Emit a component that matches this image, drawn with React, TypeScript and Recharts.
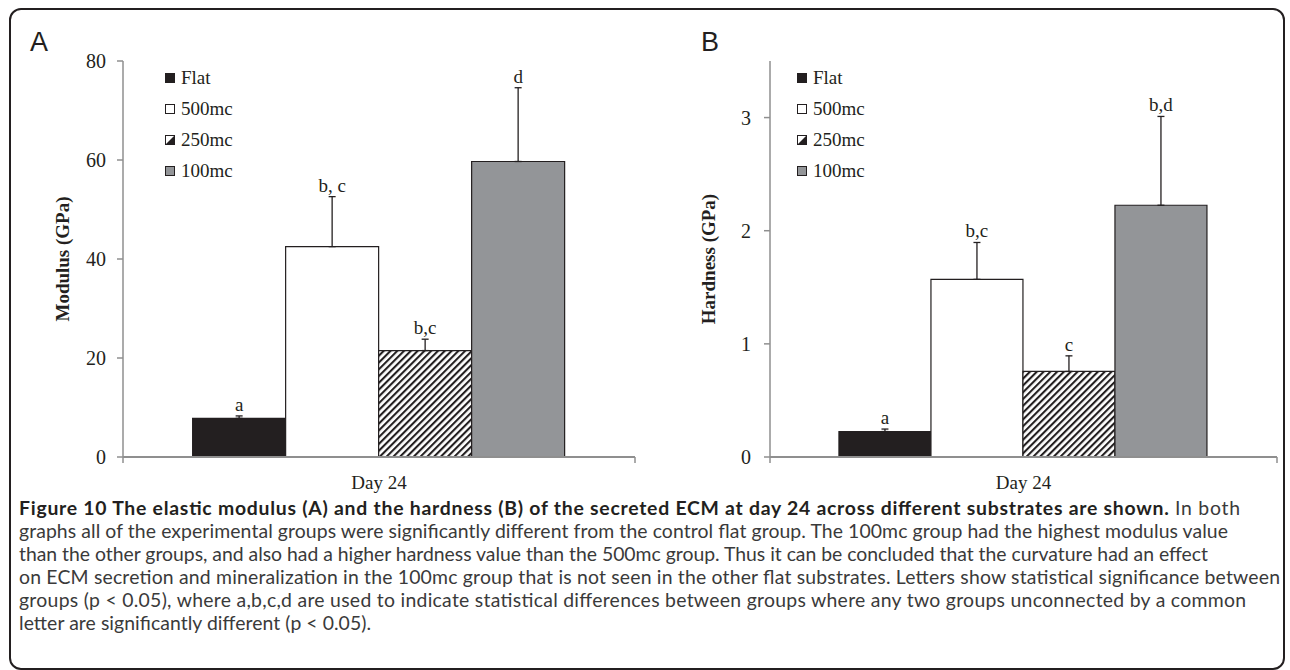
import React from 'react';
import { BarChart, Bar, XAxis, YAxis, ErrorBar, LabelList, Legend } from 'recharts';

const categories = ['Day 24'];
const groups = ['Flat', '500mc', '250mc', '100mc'];

const modulusMean = [7.8, 42.5, 21.5, 59.7];
const modulusErr = [0.5, 10.1, 2.3, 14.9];
const modulusLetters = ['a', 'b, c', 'b,c', 'd'];
const modulusTicks = [0, 20, 40, 60, 80];

const hardnessMean = [0.225, 1.57, 0.756, 2.225];
const hardnessErr = [0.022, 0.326, 0.138, 0.785];
const hardnessLetters = ['a', 'b,c', 'c', 'b,d'];
const hardnessTicks = [0, 1, 2, 3];

const captionBold =
  'Figure 10 The elastic modulus (A) and the hardness (B) of the secreted ECM at day 24 across different substrates are shown. ';
const captionLines = [
  'In both',
  'graphs all of the experimental groups were significantly different from the control flat group. The 100mc group had the highest modulus value',
  'than the other groups, and also had a higher hardness value than the 500mc group. Thus it can be concluded that the curvature had an effect',
  'on ECM secretion and mineralization in the 100mc group that is not seen in the other flat substrates. Letters show statistical significance between',
  'groups (p < 0.05), where a,b,c,d are used to indicate statistical differences between groups where any two groups unconnected by a common',
  'letter are significantly different (p < 0.05).',
];
const captionLineEnds = [1240, 1228, 1208, 1280, 1246, 371];
const captionBaselines = [515, 538, 561, 584, 607, 630];

const SERIF = '"Liberation Serif", "Times New Roman", serif';
const INK = '#231f20';
const AXIS = '#8f8f8f';
const GREY_BAR = '#939598';
const X_TICK_MARGIN = 13;
const CAPTION_LEFT = 19;

function buildRows(means: number[], errs: number[]) {
  return categories.map((day) => {
    const row: Record<string, unknown> = { day };
    groups.forEach((_, i) => {
      row[`s${i}`] = means[i];
      row[`e${i}`] = [0, errs[i]];
    });
    return row;
  });
}

const makeSigLabel = (text: string, err: number, mean: number) => (props: any) => {
  const vb = props.viewBox || {};
  const x = Number(vb.x ?? props.x);
  const y = Number(vb.y ?? props.y);
  const w = Number(vb.width ?? props.width);
  const h = Number(vb.height ?? props.height);
  const top = Math.min(y, y + h);
  const perUnit = Math.abs(h) / mean;
  const errTop = top - err * perUnit;
  return (
    <text x={x + w / 2} y={errTop - 5} textAnchor="middle" fontFamily={SERIF} fontSize={19} fill={INK}>
      {text}
    </text>
  );
};

const DayTick = (props: any) => {
  const { x, y, payload } = props;
  const half = Number(payload?.offset ?? 0);
  const axisY = y - X_TICK_MARGIN - 6;
  return (
    <g>
      {half > 0 && (
        <>
          <line x1={x - half} x2={x - half} y1={axisY} y2={axisY + 6} stroke={AXIS} strokeWidth={1.5} />
          <line x1={x + half} x2={x + half} y1={axisY} y2={axisY + 6} stroke={AXIS} strokeWidth={1.5} />
        </>
      )}
      <text x={x} y={y} dy="0.71em" textAnchor="middle" fontFamily={SERIF} fontSize={19} fill={INK}>
        {payload.value}
      </text>
    </g>
  );
};

function Swatch({ index }: { index: number }) {
  return (
    <svg width={10} height={10} style={{ display: 'block' }}>
      {index === 0 && <rect x={0.5} y={0.5} width={9} height={9} fill={INK} stroke={INK} />}
      {index === 1 && <rect x={0.5} y={0.5} width={9} height={9} fill="#fff" stroke={INK} />}
      {index === 2 && (
        <>
          <rect x={0.5} y={0.5} width={9} height={9} fill="#fff" stroke={INK} />
          <polygon points="9.5,0.5 9.5,9.5 0.5,9.5" fill={INK} />
        </>
      )}
      {index === 3 && <rect x={0.5} y={0.5} width={9} height={9} fill={GREY_BAR} stroke={INK} />}
    </svg>
  );
}

function LegendList() {
  return (
    <div>
      {groups.map((g, i) => (
        <div key={g} style={{ display: 'flex', alignItems: 'center', height: 31 }}>
          <Swatch index={i} />
          <span style={{ marginLeft: 6, fontFamily: SERIF, fontSize: 19, color: INK }}>{g}</span>
        </div>
      ))}
    </div>
  );
}

type PanelProps = {
  id: string;
  yLabel: string;
  means: number[];
  errs: number[];
  letters: string[];
  ticks: number[];
  yMax: number;
  left: number;
  width: number;
  yAxisWidth: number;
  rightMargin: number;
  labelOffset: number;
  tickMargin: number;
  legendLeft: number;
};

function Panel(p: PanelProps) {
  const rows = buildRows(p.means, p.errs);
  const fills = [INK, '#ffffff', `url(#hatch-${p.id})`, GREY_BAR];
  return (
    <div style={{ position: 'absolute', left: p.left, top: 0 }}>
      <BarChart
        width={p.width}
        height={500}
        data={rows}
        margin={{ top: 61, right: p.rightMargin, bottom: 0, left: 0 }}
        barCategoryGap="13.6%"
        barGap={0}
      >
        <defs>
          <pattern
            id={`hatch-${p.id}`}
            patternUnits="userSpaceOnUse"
            width={4.8}
            height={4.8}
            patternTransform="rotate(45)"
          >
            <rect x={0} y={0} width={4.8} height={4.8} fill="#fff" />
            <rect x={0} y={0} width={2.1} height={4.8} fill={INK} />
          </pattern>
        </defs>
        <XAxis
          dataKey="day"
          height={43}
          axisLine={{ stroke: AXIS, strokeWidth: 2 }}
          tickLine={false}
          tickSize={6}
          tickMargin={X_TICK_MARGIN}
          tick={<DayTick />}
        />
        <YAxis
          type="number"
          domain={[0, p.yMax]}
          ticks={p.ticks}
          interval={0}
          width={p.yAxisWidth}
          axisLine={{ stroke: AXIS, strokeWidth: 1.5 }}
          tickLine={{ stroke: AXIS, strokeWidth: 1.5 }}
          tickSize={6}
          tickMargin={p.tickMargin}
          tick={{ fill: INK, fontSize: 20, fontFamily: SERIF }}
          label={{
            value: p.yLabel,
            angle: -90,
            position: 'insideLeft',
            offset: p.labelOffset,
            style: { textAnchor: 'middle', fontFamily: SERIF, fontSize: 19, fontWeight: 'bold', fill: INK },
          }}
        />
        <Legend
          layout="vertical"
          align="center"
          verticalAlign="middle"
          wrapperStyle={{ left: p.legendLeft, top: 62, width: 'auto', height: 'auto' }}
          content={() => <LegendList />}
        />
        {groups.map((g, i) => (
          <Bar
            key={g}
            dataKey={`s${i}`}
            name={g}
            fill={fills[i]}
            stroke={INK}
            strokeWidth={1.2}
            isAnimationActive={false}
          >
            <ErrorBar dataKey={`e${i}`} width={3.5} stroke={INK} strokeWidth={1.3} direction="y" />
            <LabelList dataKey={`s${i}`} content={makeSigLabel(p.letters[i], p.errs[i], p.means[i])} />
          </Bar>
        ))}
      </BarChart>
    </div>
  );
}

export default function App() {
  return (
    <div style={{ position: 'absolute', left: 0, top: 0, width: 1290, height: 670, background: '#fff', overflow: 'hidden' }}>
      <div
        style={{
          position: 'absolute',
          left: 9,
          top: 8,
          width: 1276,
          height: 662,
          border: `2px solid ${INK}`,
          borderRadius: 12,
          boxSizing: 'border-box',
        }}
      />
      <Panel
        id="a"
        yLabel="Modulus (GPa)"
        means={modulusMean}
        errs={modulusErr}
        letters={modulusLetters}
        ticks={modulusTicks}
        yMax={80}
        left={0}
        width={700}
        yAxisWidth={123}
        rightMargin={65}
        labelOffset={62}
        tickMargin={11}
        legendLeft={165}
      />
      <Panel
        id="b"
        yLabel="Hardness (GPa)"
        means={hardnessMean}
        errs={hardnessErr}
        letters={hardnessLetters}
        ticks={hardnessTicks}
        yMax={3.5}
        left={640}
        width={645}
        yAxisWidth={130}
        rightMargin={8}
        labelOffset={68}
        tickMargin={13}
        legendLeft={157}
      />
      <div style={{ position: 'absolute', left: 30, top: 29, fontFamily: '"Liberation Sans", Arial, sans-serif', fontSize: 27, lineHeight: '27px', color: INK }}>
        A
      </div>
      <div style={{ position: 'absolute', left: 701, top: 29, fontFamily: '"Liberation Sans", Arial, sans-serif', fontSize: 27, lineHeight: '27px', color: INK }}>
        B
      </div>
      <svg width={1290} height={670} style={{ position: 'absolute', left: 0, top: 0, pointerEvents: 'none' }}>
        {captionLines.map((line, i) => (
          <text
            key={i}
            x={CAPTION_LEFT}
            y={captionBaselines[i]}
            textLength={captionLineEnds[i] - CAPTION_LEFT}
            lengthAdjust="spacing"
            fontFamily="Lato, sans-serif"
            fontSize={19.4}
            fill="#3a3a3a"
          >
            {i === 0 && (
              <tspan fontWeight={700} fill={INK}>
                {captionBold}
              </tspan>
            )}
            {line}
          </text>
        ))}
      </svg>
    </div>
  );
}
